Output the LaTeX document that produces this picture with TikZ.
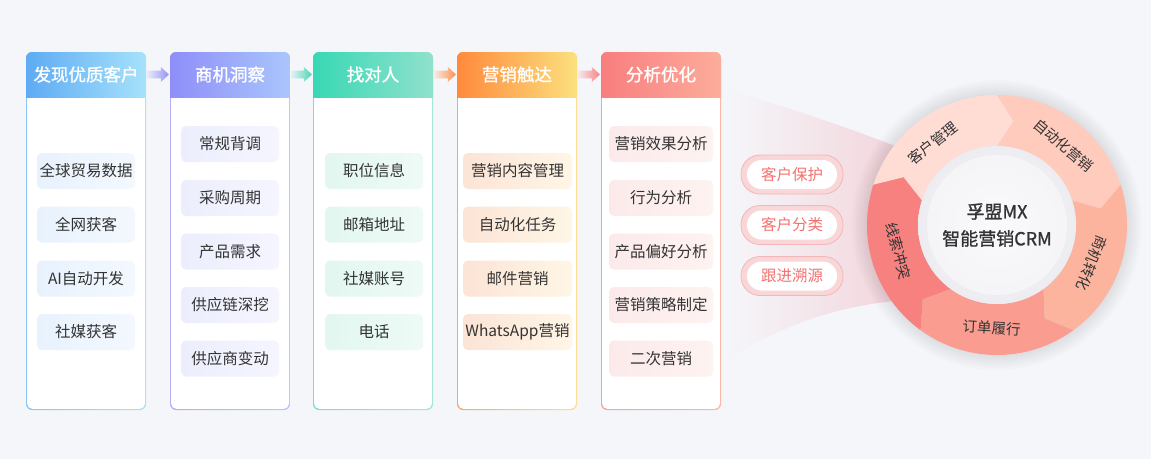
\documentclass[tikz,border=0pt]{standalone}
\usepackage{fontspec}
\setmainfont{Noto Sans CJK SC}
\newfontfamily\hdfont{Noto Sans CJK SC}[FakeBold=1.2]
\usetikzlibrary{calc}

\definecolor{bg}{HTML}{F5F6FA}
\definecolor{txt}{HTML}{333333}
\definecolor{hAa}{HTML}{5EABF4}\definecolor{hAb}{HTML}{A6E2FB}
\definecolor{bAa}{HTML}{8CC4F6}\definecolor{bAb}{HTML}{A9E2F9}
\definecolor{iAa}{HTML}{E8F2FD}\definecolor{iAb}{HTML}{F3F8FE}
\definecolor{hBa}{HTML}{8E8EF8}\definecolor{hBb}{HTML}{AAC6FC}
\definecolor{bBa}{HTML}{B3AFF8}\definecolor{bBb}{HTML}{B4CAFB}
\definecolor{iBa}{HTML}{ECEEFD}\definecolor{iBb}{HTML}{F4F5FE}
\definecolor{hCa}{HTML}{38D8B4}\definecolor{hCb}{HTML}{90E1CD}
\definecolor{bCa}{HTML}{7CDFC7}\definecolor{bCb}{HTML}{A8E6D6}
\definecolor{iCa}{HTML}{E2F7F0}\definecolor{iCb}{HTML}{EEFAF6}
\definecolor{hDa}{HTML}{FF8A3C}\definecolor{hDb}{HTML}{FCE07E}
\definecolor{bDa}{HTML}{FDA46E}\definecolor{bDb}{HTML}{FCE196}
\definecolor{iDa}{HTML}{FCE4D6}\definecolor{iDb}{HTML}{FEF6E6}
\definecolor{hEa}{HTML}{F87E7E}\definecolor{hEb}{HTML}{FCAD9C}
\definecolor{bEa}{HTML}{F9A2A0}\definecolor{bEb}{HTML}{FDB7A8}
\definecolor{iEa}{HTML}{FCEAEA}\definecolor{iEb}{HTML}{FDF3F1}
\definecolor{arA}{HTML}{9494F7}
\definecolor{arB}{HTML}{4DD6B6}
\definecolor{arC}{HTML}{FF8F4C}
\definecolor{arD}{HTML}{F98383}
\definecolor{sgA}{HTML}{FFDDD5}
\definecolor{sgB}{HTML}{FFCBBD}
\definecolor{sgC}{HTML}{FDB49F}
\definecolor{sgD}{HTML}{FA9D90}
\definecolor{sgE}{HTML}{F6817F}
\definecolor{pillbd}{HTML}{F4B6B8}
\definecolor{pillfill}{HTML}{F9D6D8}
\definecolor{pilltxt}{HTML}{F4716F}
\definecolor{funnel}{HTML}{F2D4DA}
\definecolor{innerA}{HTML}{FAFAFC}
\definecolor{innerB}{HTML}{ECECF1}

\tikzset{
  hdr/.style={minimum width=120pt, minimum height=45pt, inner sep=0pt, text=white,
    font=\hdfont\fontsize{17.5pt}{20pt}\selectfont},
  itembox/.style={rounded corners=5pt, minimum height=36pt, inner sep=0pt, text=txt,
    font=\fontsize{15.5pt}{18pt}\selectfont},
  pillout/.style={draw=pillbd, line width=0.8pt, fill=pillfill, rounded corners=19pt,
    minimum width=102pt, minimum height=39pt, inner sep=0pt},
  pillin/.style={fill=white, rounded corners=14.5pt, minimum width=90pt, minimum height=29pt,
    inner sep=0pt, text=pilltxt, font=\fontsize{15.5pt}{18pt}\selectfont},
  ringlbl/.style={inner sep=0pt, text=txt, font=\fontsize{14.5pt}{16pt}\selectfont},
  centerlbl/.style={inner sep=0pt, align=center, text=txt,
    font=\hdfont\fontsize{18pt}{27pt}\selectfont}
}

% #1 name, #2 x, #3 text, #4 #5 header colours, #6 #7 border colours
\newcommand\mycolumn[7]{%
  \shade[left color=#6, right color=#7, rounded corners=6pt] (#2,52) rectangle (#2+120,410);
  \fill[white, rounded corners=5pt] (#2+1.2,53) rectangle (#2+118.8,408.8);
  \begin{scope}
    \clip (#2,52) rectangle (#2+120,97);
    \shade[left color=#4, right color=#5, rounded corners=6pt] (#2,52) rectangle (#2+120,110);
  \end{scope}
  \node[hdr] (#1) at (#2+60,74.5) {#3};
}

% #1 from node, #2 to node, #3 colour
\newcommand\myarrow[3]{%
  \shade[left color=#3!12!bg, right color=#3]
    ($(#1.east)+(1,-3.8)$) -- ($(#2.west)+(-9,-3.8)$) -- ($(#2.west)+(-9,-7.5)$)
    -- ($(#2.west)+(-0.8,0)$) -- ($(#2.west)+(-9,7.5)$) -- ($(#2.west)+(-9,3.8)$)
    -- ($(#1.east)+(1,3.8)$) -- cycle;
}

% #1 start angle, #2 end angle, #3 colour
\newcommand\myringseg[3]{%
  \fill[#3] (#1:130pt) arc[start angle=#1, end angle=#2, radius=130pt]
    -- (#2-9:105pt) -- (#2:79pt) arc[start angle=#2, end angle=#1, radius=79pt]
    -- (#1-9:105pt) -- cycle;
}

\begin{document}
\begin{tikzpicture}[x=1pt, y=-1pt]
\useasboundingbox (0,0) rectangle (1151,459);
\fill[bg] (0,0) rectangle (1151,459);

% funnel glow
\shade[left color=bg, right color=funnel]
  (728,90) .. controls (790,108) and (850,128) .. (905,150)
  -- (905,300) .. controls (840,305) and (780,325) .. (728,360) -- cycle;

% columns
\mycolumn{h1}{26}{发现优质客户}{hAa}{hAb}{bAa}{bAb}
\mycolumn{h2}{170}{商机洞察}{hBa}{hBb}{bBa}{bBb}
\mycolumn{h3}{313}{找对人}{hCa}{hCb}{bCa}{bCb}
\mycolumn{h4}{457}{营销触达}{hDa}{hDb}{bDa}{bDb}
\mycolumn{h5}{601}{分析优化}{hEa}{hEb}{bEa}{bEb}

% arrows between columns
\myarrow{h1}{h2}{arA}
\myarrow{h2}{h3}{arB}
\myarrow{h3}{h4}{arC}
\myarrow{h4}{h5}{arD}

% column 1 items
\begin{scope}[every node/.append style={itembox, left color=iAa, right color=iAb, minimum width=98pt}]
\node (a1) at (86,171) {全球贸易数据};
\node (a2) at (86,224.5) {全网获客};
\node (a3) at (86,278.5) {AI自动开发};
\node (a4) at (86,332) {社媒获客};
\end{scope}
% column 2 items
\begin{scope}[every node/.append style={itembox, left color=iBa, right color=iBb, minimum width=98pt}]
\node (b1) at (230,144) {常规背调};
\node (b2) at (230,198) {采购周期};
\node (b3) at (230,251.5) {产品需求};
\node (b4) at (230,305) {供应链深挖};
\node (b5) at (230,358.5) {供应商变动};
\end{scope}
% column 3 items
\begin{scope}[every node/.append style={itembox, left color=iCa, right color=iCb, minimum width=98pt}]
\node (c1) at (374,171) {职位信息};
\node (c2) at (374,224.5) {邮箱地址};
\node (c3) at (374,278.5) {社媒账号};
\node (c4) at (374,332) {电话};
\end{scope}
% column 4 items
\begin{scope}[every node/.append style={itembox, left color=iDa, right color=iDb, minimum width=109pt}]
\node (d1) at (517.5,171) {营销内容管理};
\node (d2) at (517.5,224.5) {自动化任务};
\node (d3) at (517.5,278.5) {邮件营销};
\node (d4) at (517.5,332) {WhatsApp营销};
\end{scope}
% column 5 items
\begin{scope}[every node/.append style={itembox, left color=iEa, right color=iEb, minimum width=104pt}]
\node (e1) at (661,144) {营销效果分析};
\node (e2) at (661,198) {行为分析};
\node (e3) at (661,251.5) {产品偏好分析};
\node (e4) at (661,305) {营销策略制定};
\node (e5) at (661,358.5) {二次营销};
\end{scope}

% pills
\node[pillout] (p1o) at (792,174.5) {};
\node[pillin] (p1) at (p1o) {客户保护};
\node[pillout] (p2o) at (792,225) {};
\node[pillin] (p2) at (p2o) {客户分类};
\node[pillout] (p3o) at (792,276) {};
\node[pillin] (p3) at (p3o) {跟进溯源};

% ring
\begin{scope}[shift={(997,225)}]
  \foreach \r in {131,133,...,145} {\fill[black, opacity=0.010] (0,0) circle[radius=\r pt];}
  \myringseg{162}{90}{sgA}
  \myringseg{90}{18}{sgB}
  \myringseg{18}{-54}{sgC}
  \myringseg{-54}{-126}{sgD}
  \myringseg{-126}{-198}{sgE}
  \shade[inner color=innerA, outer color=innerB] (0,0) circle[radius=79pt];
  \fill[innerA, opacity=0.6] (0,0) circle[radius=70pt];
  \node[ringlbl, rotate=38] (r1) at (128:104pt) {客户管理};
  \node[ringlbl, rotate=-40] (r2) at (50:104pt) {自动化营销};
  \node[ringlbl, rotate=-112] (r3) at (-22:102pt) {商机转化};
  \node[ringlbl, rotate=-3] (r4) at (-93:103pt) {订单履行};
  \node[ringlbl, rotate=-75] (r5) at (195:102pt) {线索冲突};
  \node[centerlbl] (crm) at (0,0) {孚盟MX\\智能营销CRM};
\end{scope}
\end{tikzpicture}
\end{document}
